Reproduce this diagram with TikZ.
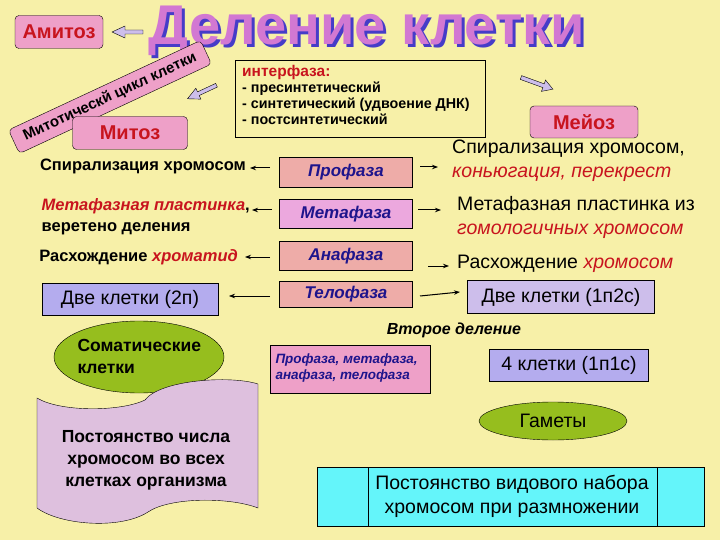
\documentclass[tikz,border=0pt]{standalone}
\usepackage{fontspec}
\setmainfont{Liberation Sans}
\usetikzlibrary{shapes.geometric,arrows.meta}
\definecolor{bg}{RGB}{247,240,168}
\definecolor{pinkf}{RGB}{238,160,200}
\definecolor{salm}{RGB}{238,172,168}
\definecolor{magf}{RGB}{236,168,222}
\definecolor{lav}{RGB}{180,172,238}
\definecolor{lav2}{RGB}{205,190,235}
\definecolor{grn}{RGB}{150,190,30}
\definecolor{banner}{RGB}{222,192,222}
\definecolor{cyanf}{RGB}{100,245,250}
\definecolor{redt}{RGB}{200,20,30}
\definecolor{bluet}{RGB}{30,20,140}
\definecolor{titlef}{RGB}{210,120,210}
\definecolor{titles}{RGB}{70,60,200}
\tikzset{
 pbox/.style={draw, rounded corners=4pt, fill=pinkf, font=\bfseries\fontsize{20}{22}\selectfont, text=redt, inner sep=0pt},
 phase/.style={draw, fill=salm, font=\bfseries\itshape\fontsize{17}{20}\selectfont, text=bluet, inner sep=0pt},
 rbox/.style={draw, fill=lav, font=\fontsize{19.5}{22}\selectfont, inner sep=0pt},
 ltxt/.style={font=\bfseries\fontsize{16.5}{21}\selectfont, align=left, inner sep=0pt},
 rtxt/.style={font=\fontsize{19.5}{24}\selectfont, align=left, inner sep=0pt},
 hollow/.style={draw=black, fill=lav2, line width=0.4pt},
 sarr/.style={-{Stealth[length=6pt]}, line width=1pt},
}
\begin{document}
\begin{tikzpicture}[x=1pt,y=-1pt]
\useasboundingbox (0,0) rectangle (720,540);
\fill[bg] (0,0) rectangle (720,540);
% title
\node (title) at (370,34) {\fontsize{56}{56}\selectfont\bfseries\color{titles}Деление клетки};
\node at (367,31) {\fontsize{56}{56}\selectfont\bfseries\color{titlef}Деление клетки};
% Амитоз
\node[pbox, minimum width=88pt, minimum height=33pt] (amit) at (59,32) {Амитоз};
\draw[hollow] (143,30) -- (125,30) -- (125,26) -- (112,32) -- (125,38) -- (125,34) -- (143,34) -- cycle;
% cycle rotated
\node[pbox, rotate=25, minimum width=212pt, minimum height=26pt, font=\bfseries\fontsize{15}{17}\selectfont, text=black] (cyc) at (110,97) {Митотическй цикл клетки};
\draw[hollow, rotate around={25:(202,92)}] (218,90) -- (198,90) -- (198,86) -- (186,92) -- (198,98) -- (198,94) -- (218,94) -- cycle;
\node[pbox, minimum width=115pt, minimum height=33pt] (mitoz) at (130,133) {Митоз};
% interphase
\node[draw, minimum width=250pt, minimum height=77pt, inner sep=0pt] (inter) at (360,99) {};
\node[anchor=north west, align=left, inner sep=0pt, font=\bfseries\fontsize{14.3}{16}\selectfont] (intt) at (242,65) {{\color{redt}\fontsize{15.5}{17}\selectfont интерфаза:}\\- пресинтетический\\- синтетический (удвоение ДНК)\\- постсинтетический};
\draw[hollow, rotate around={-20:(536,83)}] (520,81) -- (544,81) -- (544,77) -- (554,83) -- (544,89) -- (544,85) -- (520,85) -- cycle;
\node[pbox, minimum width=108pt, minimum height=32pt] (meioz) at (584,122) {Мейоз};
% phases
\node[phase, minimum width=133pt, minimum height=30pt] (pro) at (346,172) {Профаза};
\node[phase, fill=magf, minimum width=133pt, minimum height=29pt] (meta) at (346,214) {Метафаза};
\node[phase, minimum width=133pt, minimum height=29pt] (ana) at (346,256) {Анафаза};
\node[phase, minimum width=133pt, minimum height=26pt] (telo) at (346,294) {Телофаза};
% left texts
\node[ltxt, anchor=east] (l1) at (246,166) {Спирализация хромосом};
\node[ltxt, anchor=east] (l2) at (250,217) {{\color{redt}\itshape Метафазная пластинка}, \\веретено деления};
\node[ltxt, anchor=east] (l3) at (238,257) {Расхождение {\color{redt}\itshape хроматид}};
\coordinate (a1) at (270,168);
\coordinate (a2) at (272,210);
\coordinate (a3) at (270,257);
\draw[sarr] (a1) -- (250,168);
\draw[sarr] (a2) -- (252,210);
\draw[sarr] (a3) -- (245,257);
% right texts
\node[rtxt, anchor=west] (r1) at (452,161) {Спирализация хромосом,\\{\color{redt}\itshape коньюгация, перекрест}};
\node[rtxt, anchor=west] (r2) at (457,217) {Метафазная пластинка из\\{\color{redt}\itshape гомологичных хромосом}};
\node[rtxt, anchor=west] (r3) at (457,264) {Расхождение {\color{redt}\itshape хромосом}};
\draw[sarr] (420,167) -- (438,167);
\draw[sarr] (418,210) -- (441,210);
\draw[sarr] (428,266) -- (449,266);
% two cells
\node[rbox, minimum width=176pt, minimum height=32pt] (two2n) at (130,299) {Две клетки (2п)};
\node[rbox, fill=lav2, minimum width=187pt, minimum height=33pt] (two1n) at (561,297) {Две клетки (1п2с)};
\draw[-{Stealth[length=6pt]}, line width=0.6pt] (270,296) -- (229,296);
\draw[sarr] (420,296) -- (460,292);
\node[font=\bfseries\itshape\fontsize{16}{18}\selectfont] (second) at (454,330) {Второе деление};
% bottom left
\node[draw, ellipse, fill=grn, minimum width=170pt, minimum height=72pt, inner sep=0pt] (soma) at (139,357) {};
\node[font=\bfseries\fontsize{17.5}{22}\selectfont, align=left, anchor=west] at (74,356) {Соматические\\клетки};
\draw[fill=banner] (37,398) .. controls (60,412) and (120,412) .. (145,400) .. controls (160,380) and (230,375) .. (258,384)
  -- (258,508) .. controls (230,497) and (170,497) .. (148,512) .. controls (120,530) and (60,525) .. (37,508) -- cycle;
\node[font=\bfseries\fontsize{17.5}{22}\selectfont, align=center] (const1) at (146,460) {Постоянство числа\\хромосом во всех\\клетках организма};
% bottom right
\node[draw, fill=pinkf, minimum width=160pt, minimum height=48pt, inner sep=0pt] (pmat) at (350,369) {};
\node[font=\bfseries\itshape\fontsize{13.5}{16}\selectfont, text=bluet, align=left, anchor=west] at (272,368) {Профаза, метафаза,\\анафаза, телофаза};
\node[rbox, minimum width=159pt, minimum height=32pt] (four) at (569,365) {4 клетки (1п1с)};
\node[draw, ellipse, fill=grn, minimum width=148pt, minimum height=38pt, inner sep=0pt, font=\fontsize{19.5}{22}\selectfont] (gam) at (553,421) {Гаметы};
\node[draw, fill=cyanf, minimum width=387pt, minimum height=59pt, inner sep=0pt] (cyanb) at (511,497) {};
\draw (368,468) -- (368,526);
\draw (657,468) -- (657,526);
\node[font=\fontsize{19.5}{24}\selectfont, align=center] at (512,496) {Постоянство видового набора\\хромосом при размножении};
\end{tikzpicture}
\end{document}
